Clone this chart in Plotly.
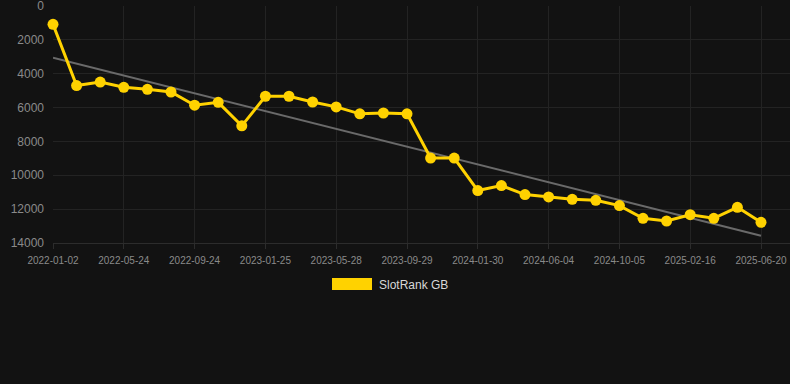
import plotly.graph_objects as go

dates = [
    "2022-01-02", "2022-02-18", "2022-04-06", "2022-05-24", "2022-07-04", "2022-08-14",
    "2022-09-24", "2022-11-04", "2022-12-15", "2023-01-25", "2023-03-07", "2023-04-17",
    "2023-05-28", "2023-07-09", "2023-08-19", "2023-09-29", "2023-11-09", "2023-12-20",
    "2024-01-30", "2024-03-12", "2024-04-23", "2024-06-04", "2024-07-15", "2024-08-25",
    "2024-10-05", "2024-11-19", "2025-01-02", "2025-02-16", "2025-03-30", "2025-05-10",
    "2025-06-20",
]
rank_gb = [
    1080, 4700, 4490, 4800, 4920, 5080, 5860, 5690, 7080, 5330,
    5330, 5670, 5960, 6370, 6320, 6370, 8980, 8980, 10900, 10610,
    11140, 11280, 11420, 11480, 11790, 12540, 12700, 12330, 12540, 11890,
    12780,
]
trend_ends = [3050, 13570]
tick_labels = dates[::3]
series_name = "SlotRank GB"

BG = "#121212"
GOLD = "#FFD200"
GRID = "#232323"
TICK = "#8a8a8a"
FONT = "Liberation Sans, Arial, sans-serif"

fig = go.Figure()
fig.add_trace(go.Scatter(
    x=[dates[0], dates[-1]], y=trend_ends, mode="lines",
    line=dict(color="#6a6a6a", width=2), showlegend=False, hoverinfo="skip",
))
fig.add_trace(go.Scatter(
    x=dates, y=rank_gb, mode="lines+markers", name=series_name,
    line=dict(color=GOLD, width=3),
    marker=dict(color=GOLD, size=11),
    cliponaxis=False, showlegend=False,
))

n = len(dates)
fig.update_layout(
    width=790, height=384,
    paper_bgcolor=BG, plot_bgcolor=BG,
    margin=dict(l=53, r=0, t=6, b=141),
    font=dict(family=FONT, color=TICK),
    showlegend=False,
    xaxis=dict(
        type="category", categoryorder="array", categoryarray=dates,
        range=[0, n - 1 + 29 / 23.6],
        tickmode="array", tickvals=tick_labels, ticktext=tick_labels,
        showgrid=True, gridcolor=GRID, gridwidth=1,
        showline=True, linecolor="#2c2c2c", linewidth=1,
        ticks="outside", ticklen=5, tickcolor="#2c2c2c",
        tickfont=dict(size=10, color=TICK),
        ticklabelstandoff=3,
        zeroline=False,
    ),
    yaxis=dict(
        range=[14000, -1], tickmode="linear", tick0=0, dtick=2000,
        tickformat="d",
        showgrid=True, gridcolor=GRID, gridwidth=1,
        zeroline=False, showline=False,
        tickfont=dict(size=12, color=TICK),
        ticklabelstandoff=8,
        ticklabeloverflow="allow",
    ),
    shapes=[dict(
        type="rect", xref="paper", yref="paper",
        x0=(332 - 53) / 737, x1=(372 - 53) / 737,
        y0=(243 - 290) / 237, y1=(243 - 278) / 237,
        fillcolor=GOLD, line=dict(width=0),
    )],
    annotations=[dict(
        xref="paper", yref="paper",
        x=(377 - 53) / 737, y=(243 - 284.5) / 237,
        xanchor="left", yanchor="middle", showarrow=False,
        text=series_name, font=dict(size=12, color="#d8d8d8", family=FONT),
    )],
)

fig.write_html(
    "out.html",
    config={"displayModeBar": False},
    post_script="document.body.style.margin='0';document.body.style.background='#121212';",
)
